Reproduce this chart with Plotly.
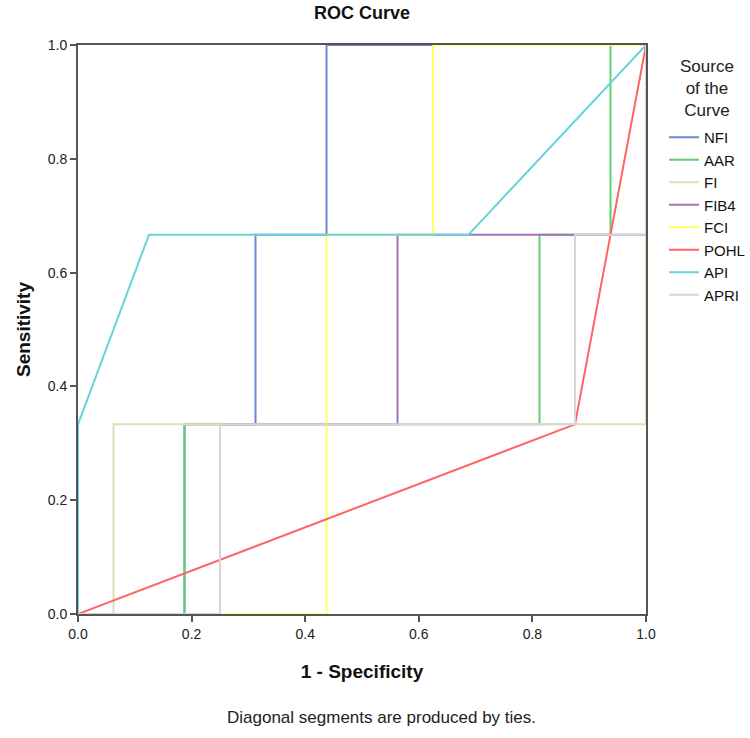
import plotly.graph_objects as go

# ROC curve points (1 - Specificity, Sensitivity)
names = ["NFI", "AAR", "FI", "FIB4", "FCI", "POHL", "API", "APRI"]
colors = ["#7088d4", "#5ccf72", "#e2dcb4", "#a673b4", "#ffff66", "#ff6464", "#66d4d8", "#d6d6d6"]

nfi_x = [0, 0.1875, 0.1875, 0.3125, 0.3125, 0.4375, 0.4375, 1]
nfi_y = [0, 0, 0.3333, 0.3333, 0.6667, 0.6667, 1, 1]
aar_x = [0, 0.1875, 0.1875, 0.8125, 0.8125, 0.9375, 0.9375, 1]
aar_y = [0, 0, 0.3333, 0.3333, 0.6667, 0.6667, 1, 1]
fi_x = [0, 0.0625, 0.0625, 1, 1]
fi_y = [0, 0, 0.3333, 0.3333, 1]
fib4_x = [0, 0.25, 0.25, 0.5625, 0.5625, 1, 1]
fib4_y = [0, 0, 0.3333, 0.3333, 0.6667, 0.6667, 1]
fci_x = [0, 0.4375, 0.4375, 0.625, 0.625, 1]
fci_y = [0, 0, 0.6667, 0.6667, 1, 1]
pohl_x = [0, 0.875, 1]
pohl_y = [0, 0.3333, 1]
api_x = [0, 0, 0.125, 0.6875, 1]
api_y = [0, 0.3333, 0.6667, 0.6667, 1]
apri_x = [0, 0.25, 0.25, 0.875, 0.875, 1, 1]
apri_y = [0, 0, 0.3333, 0.3333, 0.6667, 0.6667, 1]

xs = [nfi_x, aar_x, fi_x, fib4_x, fci_x, pohl_x, api_x, apri_x]
ys = [nfi_y, aar_y, fi_y, fib4_y, fci_y, pohl_y, api_y, apri_y]

tick_vals = [0, 0.2, 0.4, 0.6, 0.8, 1.0]
tick_text = ["0.0", "0.2", "0.4", "0.6", "0.8", "1.0"]

FONT = "Liberation Sans, Arial, sans-serif"

fig = go.Figure()
for n, c, x, y in zip(names, colors, xs, ys):
    fig.add_trace(go.Scatter(x=x, y=y, mode="lines", name=n, legendgroup=n,
                             line=dict(color=c, width=2)))

axis_common = dict(range=[0, 1], tickvals=tick_vals, ticktext=tick_text,
                   showgrid=False, zeroline=False, showline=True, mirror=True,
                   linecolor="#555555", linewidth=2, ticks="outside", ticklen=6,
                   tickwidth=2, tickcolor="#555555",
                   tickfont=dict(family=FONT, size=14, color="#222222"))

fig.update_layout(
    width=750, height=738,
    margin=dict(l=78, r=104, t=45, b=124, autoexpand=False),
    paper_bgcolor="white", plot_bgcolor="white",
    title=dict(text="<b>ROC Curve</b>", x=362 / 750, xanchor="center",
               y=1 - 13 / 738, yanchor="middle",
               font=dict(family=FONT, size=18, color="#111111")),
    xaxis=dict(**axis_common,
               title=dict(text="<b>1 - Specificity</b>", standoff=24,
                          font=dict(family=FONT, size=19, color="#111111"))),
    yaxis=dict(**axis_common,
               title=dict(text="<b>Sensitivity</b>", standoff=12,
                          font=dict(family=FONT, size=19, color="#111111"))),
    legend=dict(x=1 + 18 / 568, xanchor="left", y=1 - 76 / 569, yanchor="top",
                font=dict(family=FONT, size=15, color="#111111"),
                itemwidth=30, tracegroupgap=0, bgcolor="rgba(0,0,0,0)"),
    showlegend=True,
    annotations=[
        dict(text="Source<br>of the<br>Curve", xref="paper", yref="paper",
             x=1 + 61 / 568, y=1 - 10 / 569, xanchor="center", yanchor="top",
             showarrow=False, align="center",
             font=dict(family=FONT, size=17, color="#222222")),
        dict(text="Diagonal segments are produced by ties.", xref="paper", yref="paper",
             x=(381 - 78) / 568, y=-(717 - 614) / 569, xanchor="center", yanchor="middle",
             showarrow=False, font=dict(family=FONT, size=17, color="#222222")),
    ],
)

fig.write_html("out.html")
